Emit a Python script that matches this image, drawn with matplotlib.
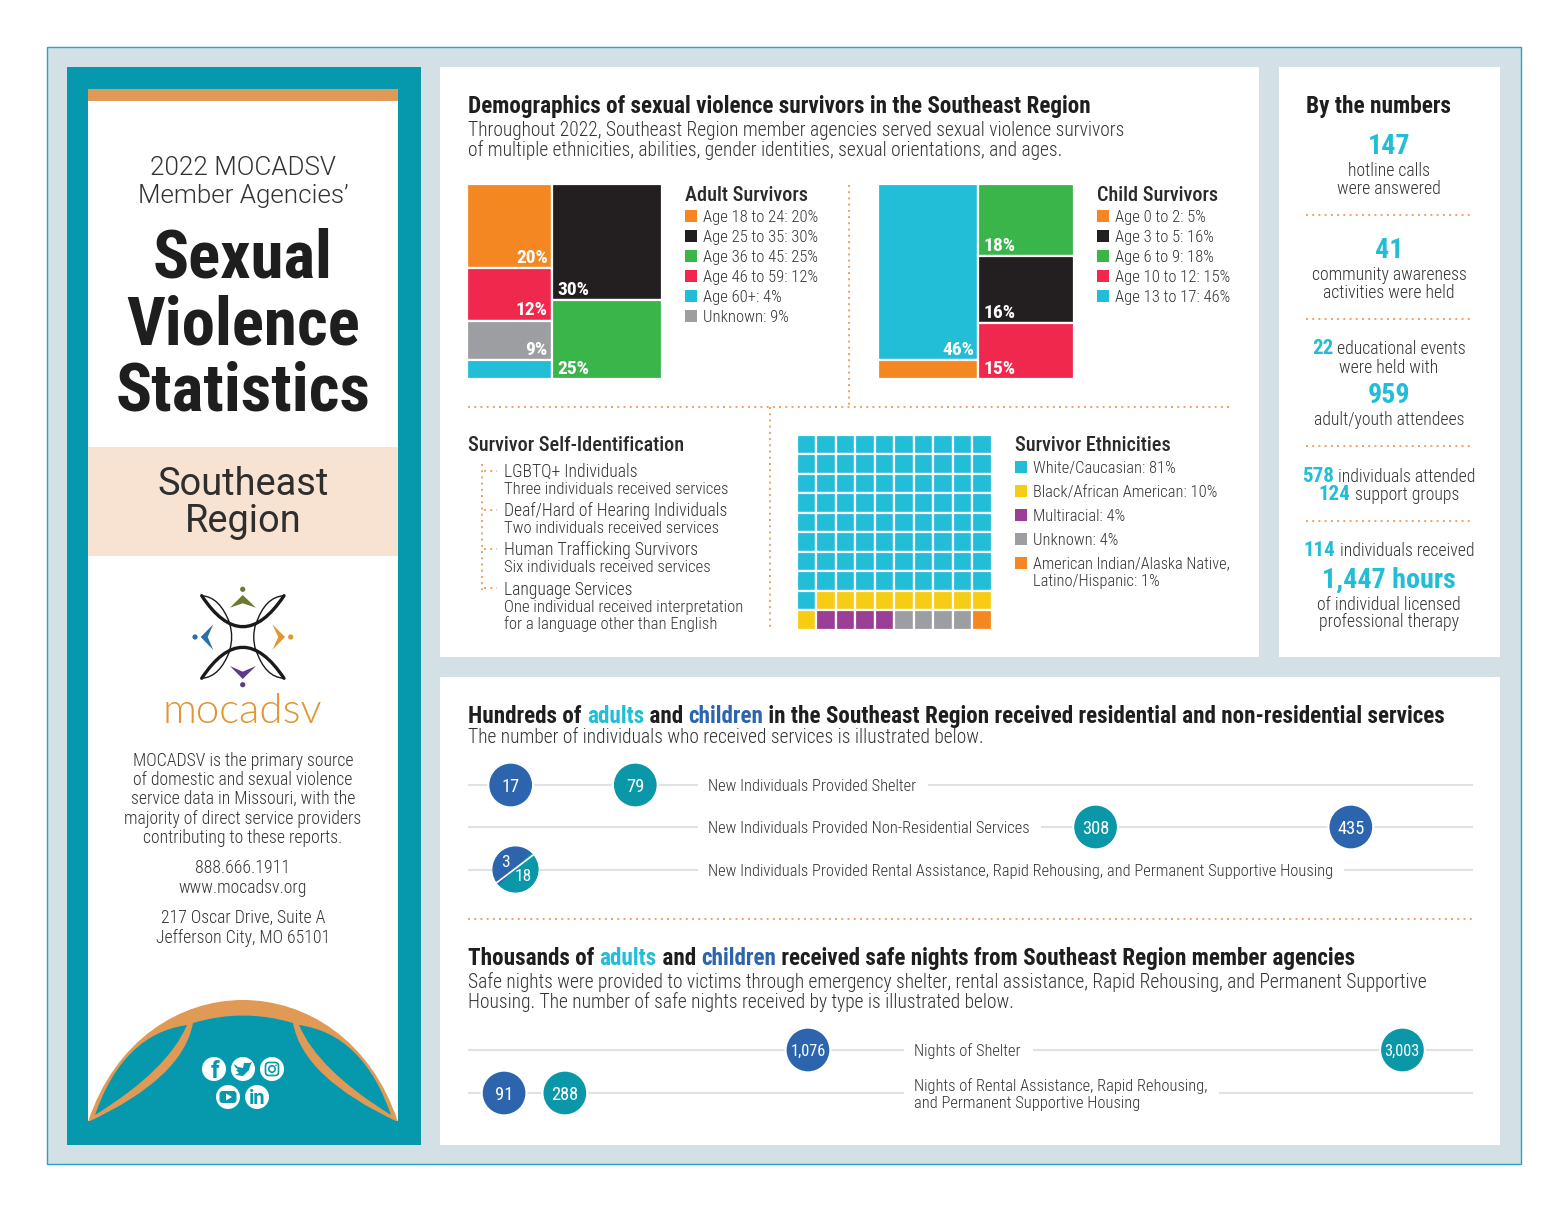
import matplotlib
matplotlib.use('Agg')
import matplotlib.pyplot as plt
from matplotlib.patches import Rectangle, Circle, PathPatch, Polygon, FancyBboxPatch
from matplotlib.path import Path

# --- data ---
adult_names = ['Age 18 to 24', 'Age 25 to 35', 'Age 36 to 45', 'Age 46 to 59', 'Age 60+', 'Unknown']
adult_pct = [20, 30, 25, 12, 4, 9]
adult_area = [18.5, 33.4, 22.6, 11.6, 4.2, 8.7]   # cell areas as drawn, not quite the labels
child_names = ['Age 0 to 2', 'Age 3 to 5', 'Age 6 to 9', 'Age 10 to 12', 'Age 13 to 17']
child_pct = [5, 16, 18, 15, 46]
child_area = [5, 16.5, 18, 14, 46]
eth_names = ['White/Caucasian', 'Black/African American', 'Multiracial', 'Unknown']
eth_pct = [81, 10, 4, 4, 1]
shelter = [17, 79]
nonres = [435, 308]
rental = [3, 18]
night_shelter = [1076, 3003]
night_rental = [91, 288]

ORANGE, BLACK, GREEN, RED, CYAN, GRAY = '#F48721', '#231F20', '#39B54A', '#F0284E', '#22BDD7', '#9D9EA1'
YELLOW, PURPLE = '#F6CD14', '#9A3E96'
TEAL, BLUE = '#0A97A8', '#2C65AE'
PANEL = '#0698AC'
DOT = '#F2A15E'
DARK, TXT = '#1E1E1E', '#333333'
adult_colors = [ORANGE, BLACK, GREEN, RED, CYAN, GRAY]
child_colors = [ORANGE, BLACK, GREEN, RED, CYAN]
eth_colors = [CYAN, YELLOW, PURPLE, GRAY, ORANGE]

NARROW = 'Roboto Condensed'
LIGHT = 'Roboto'

fig = plt.figure(figsize=(15.68, 12.12), dpi=100, facecolor='white')
ax = fig.add_axes([0, 0, 1, 1])
ax.set_xlim(0, 1568)
ax.set_ylim(1212, 0)
ax.axis('off')
rend = fig.canvas.get_renderer()


def px_axes(x0, y0, x1, y1):
    a = fig.add_axes([x0 / 1568, 1 - y1 / 1212, (x1 - x0) / 1568, (y1 - y0) / 1212])
    a.axis('off')
    a.patch.set_alpha(0)
    return a


def rect(x0, y0, x1, y1, color, **kw):
    ax.add_patch(Rectangle((x0, y0), x1 - x0, y1 - y0, facecolor=color, edgecolor=kw.pop('ec', 'none'), **kw))


def t(x, yc, s, size=18, color=TXT, weight=300, ha='left', family=None, base=None):
    # yc is the middle of the capitals, size is in pixels
    base = size if base is None else base
    return ax.text(x, yc + 0.35 * base, s, fontsize=size * 0.72, color=color, fontweight=weight,
                   ha=ha, va='baseline', family=family or NARROW)


def text_w(s, size, weight, family=None):
    tx = ax.text(0, 0, 'x' + s + 'x', fontsize=size * 0.72, fontweight=weight, family=family or NARROW)
    w = tx.get_window_extent(rend).width
    tx.set_text('xx')
    w -= tx.get_window_extent(rend).width
    tx.remove()
    return w


def runs(x, yc, parts, size=18, center=False):
    # parts: (string, colour, weight, optional size), set one after the other on one baseline
    sizes = [p[3] if len(p) > 3 else size for p in parts]
    widths = [text_w(p[0], s, p[2]) for p, s in zip(parts, sizes)]
    if center:
        x -= sum(widths) / 2
    for p, w, s in zip(parts, widths, sizes):
        t(x, yc, p[0], s, p[1], p[2], base=size)
        x += w


def dots(x0, y0, x1, y1):
    ax.plot([x0, x1], [y0, y1], color=DOT, lw=1.4, ls=(0, (1, 2.2)), zorder=2)


def curve(pts, codes, **kw):
    ax.add_patch(PathPatch(Path(pts, codes), **kw))


C3, C2, M, L = Path.CURVE4, Path.CURVE3, Path.MOVETO, Path.LINETO

# background and panels
rect(47, 47, 1521, 1164, '#D3E1E7', ec='#22A5BF', lw=1)
rect(67, 67, 421, 1145, PANEL)
rect(88, 89, 398, 1122, 'white')
rect(88, 89, 398, 101, '#E09A56')
rect(440, 67, 1259, 657, 'white')
rect(1279, 67, 1500, 657, 'white')
rect(440, 677, 1500, 1145, 'white')
rect(88, 447, 398, 556, '#F8E3D3')

# left panel text
t(243, 166, '2022 MOCADSV', 26, TXT, 300, 'center', LIGHT)
t(243, 194, "Member Agencies\u2019", 26, TXT, 300, 'center', LIGHT)
for yc, s in [(254, 'Sexual'), (321, 'Violence'), (387, 'Statistics')]:
    t(243, yc, s, 67, DARK, 'bold', 'center')
t(243, 482, 'Southeast', 38, '#2E2E2E', 'normal', 'center', LIGHT)
t(243, 519, 'Region', 38, '#2E2E2E', 'normal', 'center', LIGHT)
t(242, 708, 'mocadsv', 42, '#E39433', 300, 'center', 'Lato')
for yc, s in [(760, 'MOCADSV is the primary source'), (779, 'of domestic and sexual violence'),
              (798, 'service data in Missouri, with the'), (818, 'majority of direct service providers'),
              (837, 'contributing to these reports.'), (867, '888.666.1911'), (887, 'www.mocadsv.org'),
              (917, '217 Oscar Drive, Suite A'), (937, 'Jefferson City, MO 65101')]:
    t(243, yc, s, 17.8, ha='center')

# logo
lk = dict(fill=False, ec='#1A1A1A', capstyle='round')
for sgn in (1, -1):
    cy = 637
    curve([(201.7, cy - sgn * 41.3), (242.7, cy + sgn * 20.7), (284, cy - sgn * 41.3)], [M, C2, C2], lw=2.4, **lk)
    curve([(201.7, cy - sgn * 41.3), (220, cy - sgn * 40.3), (230, cy - sgn * 13)], [M, C2, C2], lw=1, **lk)
    curve([(284, cy - sgn * 41.3), (265, cy - sgn * 40.3), (256, cy - sgn * 13)], [M, C2, C2], lw=1, **lk)
    x = 242.7 - sgn * 13
    curve([(x, 624), (x + sgn * 4, 637), (x, 650)], [M, C2, C2], lw=1, **lk)
for pts, dot, col in [([(242.7, 595), (230, 607.7), (242.7, 603.3), (256, 607.7)], (242.7, 589.3), '#6B7A2E'),
                      ([(213.3, 624.3), (200.7, 637), (213.3, 650), (207.7, 637)], (195, 637), '#2A6FA8'),
                      ([(272.3, 624.3), (285, 637), (272.3, 650), (278.3, 637)], (290.7, 637), '#E3962B'),
                      ([(230, 666), (242.7, 679), (256, 666), (242.7, 671.7)], (242.7, 684.7), '#5B3A8C')]:
    ax.add_patch(Polygon(pts, closed=True, fc=col, ec='none'))
    ax.add_patch(Circle(dot, 2.6, fc=col, ec='none'))

# dome at the foot of the panel
curve([(88, 1122), (115, 1040), (180, 1000), (243, 1000), (306, 1000), (371, 1040), (398, 1122), (88, 1122)],
      [M, C3, C3, C3, C3, C3, C3, L], fc='#E09A56', ec='none')
curve([(193, 1023), (243, 1008), (293, 1023), (303, 1078), (398, 1122), (88, 1122), (183, 1078), (193, 1023)],
      [M, C2, C2, C2, C2, L, C2, C2], fc=PANEL, ec='none')
for sgn in (1, -1):
    f = lambda x: 243 + sgn * (x - 243)
    curve([(f(95), 1115), (f(123), 1034), (f(187), 1025), (f(168), 1070), (f(95), 1115)],
          [M, C2, C2, C2, C2], fc=PANEL, ec='none')
rect(67, 1122, 421, 1145, PANEL)
rect(88, 1121, 398, 1123, PANEL)

# social icons
for x, y in [(214, 1069), (243, 1069), (272, 1069), (228, 1097), (257, 1097)]:
    ax.add_patch(Circle((x, y), 12, fc='white', ec='none'))
t(215, 1070, 'f', 24, PANEL, 'bold', 'center', 'Roboto')
bird = [(234, 1064), (238, 1067), (243, 1068), (244, 1063), (249, 1063), (252, 1062), (250, 1066), (249, 1070),
        (243, 1076), (235, 1075), (239, 1073), (236, 1070), (238, 1069.5), (235, 1067)]
ax.add_patch(Polygon(bird, closed=True, fc=PANEL, ec='none'))
ax.add_patch(FancyBboxPatch((265.5, 1062.5), 13, 13, boxstyle='round,pad=0,rounding_size=3.5', fc='none', ec=PANEL, lw=1.2))
ax.add_patch(Circle((272, 1069), 3.2, fc='none', ec=PANEL, lw=1.2))
ax.add_patch(Circle((276, 1065.3), 0.8, fc=PANEL, ec='none'))
ax.add_patch(FancyBboxPatch((219.5, 1091), 17, 12, boxstyle='round,pad=0,rounding_size=3', fc=PANEL, ec='none'))
ax.add_patch(Polygon([(226, 1093.5), (226, 1100.5), (232, 1097)], closed=True, fc='white', ec='none'))
t(257.5, 1097.5, 'in', 20, PANEL, 'bold', 'center', 'Roboto')

# top panel heading
t(468, 105, 'Demographics of sexual violence survivors in the Southeast Region', 23.1, DARK, 'bold')
t(468, 129, 'Throughout 2022, Southeast Region member agencies served sexual violence survivors', 19.55)
t(468, 149, 'of multiple ethnicities, abilities, gender identities, sexual orientations, and ages.', 19.55)

dots(468, 407, 1230, 407)
dots(849, 185, 849, 407)
dots(770, 407, 770, 630)


def treemap(box, left, right, areas, pcts, colors):
    # two columns, each stacked top to bottom, widths from the summed areas
    a = px_axes(*box)
    total = sum(areas[i] for i in left + right)
    a.set_xlim(0, total)
    a.set_ylim(total, 0)
    split = sum(areas[i] for i in left)
    for col, x0, w, ha in [(left, 0, split, 'right'), (right, split, total - split, 'left')]:
        y = 0
        col_sum = sum(areas[i] for i in col)
        for i in col:
            h = areas[i] / col_sum * total
            a.add_patch(Rectangle((x0, y), w, h, fc=colors[i], ec='white', lw=1.6, clip_on=False))
            if pcts[i] >= 9:
                pad = total * 0.02
                tx = x0 + w - pad if ha == 'right' else x0 + pad * 1.35
                a.text(tx, y + h - pad * 0.3, f'{pcts[i]}%', color='white', fontsize=19.5 * 0.72,
                       fontweight='bold', ha=ha, va='bottom', family=NARROW)
            y += h


def legend(x, title, yc_list, labels, colors, title_y=194):
    t(x, title_y, title, 20.3, '#2A2A2A', 'medium')
    for yc, lab, c in zip(yc_list, labels, colors):
        rect(x, yc - 6, x + 12, yc + 6, c)
        t(x + 18, yc, lab, 16.6)


treemap((467, 184, 662, 379), [0, 3, 5, 4], [1, 2], adult_area, adult_pct, adult_colors)
treemap((878, 184, 1074, 379), [4, 0], [2, 1, 3], child_area, child_pct, child_colors)
legend(685, 'Adult Survivors', [216, 236, 256, 276, 296, 316],
       [f'{n}: {p}%' for n, p in zip(adult_names, adult_pct)], adult_colors)
legend(1097, 'Child Survivors', [216, 236, 256, 276, 296],
       [f'{n}: {p}%' for n, p in zip(child_names, child_pct)], child_colors)

# self identification
t(468, 444, 'Survivor Self-Identification', 20.3, '#2A2A2A', 'medium')
dots(482, 464, 482, 590)
for y0, y1, y2, head, sub in [(471, 471, 488, 'LGBTQ+ Individuals', 'Three individuals received services'),
                              (510, 510, 527, 'Deaf/Hard of Hearing Individuals', 'Two individuals received services'),
                              (549, 549, 566, 'Human Trafficking Survivors', 'Six individuals received services'),
                              (588, 589, 606, 'Language Services', 'One individual received interpretation')]:
    dots(484, y0, 497, y0)
    t(504, y1, head, 17.6)
    t(504, y2, sub, 16.6)
t(504, 623, 'for a language other than English', 16.6)

# waffle, filled row by row from the percentages
wa = px_axes(796.5, 434.5, 992, 630)
wa.set_xlim(0, 10)
wa.set_ylim(10, 0)
cells = [c for p, c in zip(eth_pct, eth_colors) for _ in range(p)]
for k, c in enumerate(cells):
    wa.add_patch(Rectangle((k % 10, k // 10), 1, 1, fc=c, ec='white', lw=1.6))
t(1015, 444, 'Survivor Ethnicities', 20.3, '#2A2A2A', 'medium')
for yc, n, p, c in zip([467, 491, 515, 539], eth_names, eth_pct, eth_colors):
    rect(1015, yc - 6, 1027, yc + 6, c)
    t(1033, yc, f'{n}: {p}%', 16.5)
rect(1015, 557, 1027, 569, eth_colors[4])
t(1033, 563, 'American Indian/Alaska Native,', 16.3)
t(1033, 580, f'Latino/Hispanic: {eth_pct[4]}%', 16.5)

# by the numbers
cx = 1389
t(1379, 105, 'By the numbers', 23.2, DARK, 'bold', 'center')
for yc, s, size in [(144, '147', 28), (248, '41', 28), (393, '959', 28), (578, '1,447 hours', 28)]:
    t(cx, yc, s, size, CYAN, 'bold', 'center')
for yc, s in [(170, 'hotline calls'), (188, 'were answered'), (274, 'community awareness'),
              (292, 'activities were held'), (367, 'were held with'), (419, 'adult/youth attendees'),
              (604, 'of individual licensed'), (621, 'professional therapy')]:
    t(cx, yc, s, 17.8, ha='center')
for yc, num, rest in [(348, '22', ' educational events'), (476, '578', ' individuals attended'),
                      (494, '124', ' support groups'), (550, '114', ' individuals received')]:
    runs(cx, yc, [(num, CYAN, 'bold', 21), (rest, TXT, 300)], 17.8, center=True)
for y in [215, 319, 446, 521]:
    dots(1306, y, 1473, y)

# lower panel
runs(468, 715, [('Hundreds of ', DARK, 'bold'), ('adults', CYAN, 'bold'), (' and ', DARK, 'bold'),
                ('children', BLUE, 'bold'),
                (' in the Southeast Region received residential and non-residential services', DARK, 'bold')], 23.15)
t(468, 736, 'The number of individuals who received services is illustrated below.', 19.55)
runs(468, 957, [('Thousands of ', DARK, 'bold'), ('adults', CYAN, 'bold'), (' and ', DARK, 'bold'),
                ('children', BLUE, 'bold'),
                (' received safe nights from Southeast Region member agencies', DARK, 'bold')], 23.15)
t(468, 981, 'Safe nights were provided to victims through emergency shelter, rental assistance, Rapid Rehousing, and Permanent Supportive', 19.55)
t(468, 1001, 'Housing. The number of safe nights received by type is illustrated below.', 19.55)
dots(468, 919, 1473, 919)

LINE = '#E0E2E4'
for y, segs in [(785, [(468, 698), (928, 1473)]), (827, [(468, 698), (1041, 1473)]),
                (870, [(468, 698), (1344, 1473)]), (1050, [(468, 904), (1033, 1473)]),
                (1093, [(468, 904), (1219, 1473)])]:
    for x0, x1 in segs:
        ax.plot([x0, x1], [y, y], color=LINE, lw=1.5, solid_capstyle='butt', zorder=1)
t(708, 785, 'New Individuals Provided Shelter', 16.5)
t(708, 827, 'New Individuals Provided Non-Residential Services', 16.5)
t(708, 870, 'New Individuals Provided Rental Assistance, Rapid Rehousing, and Permanent Supportive Housing', 16.5)
t(914, 1050, 'Nights of Shelter', 16.5)
t(914, 1085, 'Nights of Rental Assistance, Rapid Rehousing,', 16.5)
t(914, 1102, 'and Permanent Supportive Housing', 16.5)

BUB = 1040  # marker area in points squared


def bubble_axes(y0, y1, per_px, origin=476):
    # x axis runs in people or nights, y axis in pixels of the page
    a = px_axes(468, y0, 1473, y1)
    a.set_xlim((468 - origin) / per_px, (1473 - origin) / per_px)
    a.set_ylim(y1, y0)
    return a


def bubbles(a, y, vals, colors, size=18.5):
    a.scatter(vals, [y] * len(vals), s=BUB, c=colors, edgecolors='white', linewidths=1.5, zorder=3)
    for v in vals:
        a.text(v, y, f'{v:,}', color='white', fontsize=size * 0.72, ha='center', va='center_baseline',
               family=NARROW, zorder=4)


b1 = bubble_axes(755, 900, 2.01, 476.5)
bubbles(b1, 785, shelter, [BLUE, TEAL])
bubbles(b1, 827, nonres, [BLUE, TEAL])
# split bubble sits between its two counts
mid = 19
b1.scatter([mid], [869], s=BUB, marker=Path.wedge(45, 225), c=BLUE, zorder=3)
b1.scatter([mid], [869], s=BUB, marker=Path.wedge(225, 405), c=TEAL, zorder=3)
b1.annotate('', xy=(mid + 10.5, 869 - 16), xytext=(mid - 10.5, 869 + 16),
            arrowprops=dict(arrowstyle='-', color='white', lw=1.2, shrinkA=0, shrinkB=0), zorder=4)
b1.annotate(f'{rental[0]}', (mid, 869), xytext=(-6.5, 5), textcoords='offset points', color='white',
            fontsize=12.5, ha='center', va='center', family=NARROW, zorder=5)
b1.annotate(f'{rental[1]}', (mid, 869), xytext=(6, -5.5), textcoords='offset points', color='white',
            fontsize=12.5, ha='center', va='center', family=NARROW, zorder=5)

b2 = bubble_axes(1020, 1125, 0.3085)
bubbles(b2, 1050, night_shelter, [BLUE, TEAL], 16.4)
bubbles(b2, 1093, night_rental, [BLUE, TEAL])

fig.savefig('out.png', dpi=100, facecolor='white')
